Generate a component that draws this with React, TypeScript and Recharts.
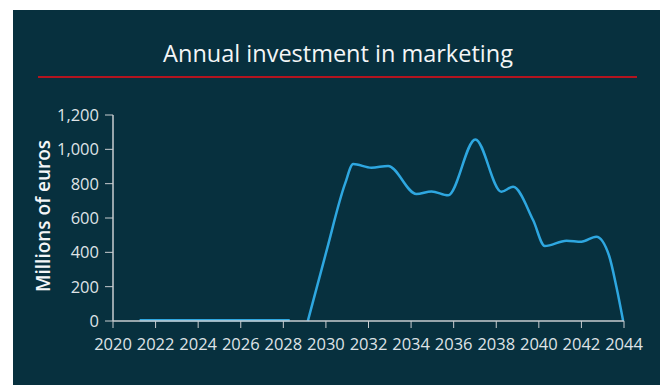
import React from "react";
import { LineChart, Line, XAxis, YAxis } from "recharts";

const years: (number)[] = [
  2021.25, 2028.3, 2028.7,
  2029.15, 2030.0, 2030.9, 2031.28, 2032.14, 2032.92, 2034.25, 2034.96, 2035.74,
  2037.02, 2038.24, 2038.79, 2039.73, 2040.28, 2041.3, 2042.0, 2042.7, 2043.3, 2043.65, 2043.96,
];
const values: (number | null)[] = [
  5, 5, null,
  0, 395, 800, 914, 893, 903, 740, 755, 732,
  1058, 753, 782, 588, 437, 468, 462, 491, 380, 195, 0,
];
const xTicks = [2020, 2022, 2024, 2026, 2028, 2030, 2032, 2034, 2036, 2038, 2040, 2042, 2044];
const yTicks = [0, 200, 400, 600, 800, 1000, 1200];

const data = years.map((y, i) => ({ year: y, value: values[i] }));

const BG = "#07303e";
const TXT = "#dfe3e6";
const AX = "#c9cdd0";
const FONT = "'Open Sans', Lato, sans-serif";

export default function App() {
  return (
    <div style={{ position: "relative", width: 655, height: 375, marginLeft: 5, marginTop: 2, background: BG, fontFamily: FONT }}>
      <div style={{ position: "absolute", left: 0, top: 27, width: 650, textAlign: "center", color: "#f4f6f7", fontSize: 23.5, fontFamily: FONT }}>
        Annual investment in marketing
      </div>
      <div style={{ position: "absolute", left: 25, top: 66, width: 599, height: 2, background: "#b3141f" }} />
      <div style={{ position: "absolute", left: 30, top: 206, width: 0, height: 0 }}>
        <div style={{ position: "absolute", transform: "translate(-50%, -50%) rotate(-90deg)", whiteSpace: "nowrap", color: "#f4f6f7", fontSize: 19, fontWeight: 600, fontFamily: FONT }}>
          Millions of euros
        </div>
      </div>
      <LineChart width={655} height={375} data={data} margin={{ top: 105, right: 44, bottom: 34, left: 40 }} style={{ position: "absolute", left: 0, top: 0 }}>
        <XAxis
          dataKey="year"
          type="number"
          domain={[2020, 2044]}
          ticks={xTicks}
          interval={0}
          height={30}
          tickSize={7}
          tickMargin={10}
          stroke={AX}
          tick={{ fill: TXT, fontSize: 16.5, fontFamily: FONT }}
          tickLine={{ stroke: AX }}
          axisLine={{ stroke: AX, strokeWidth: 1.5 }}
        />
        <YAxis
          type="number"
          domain={[0, 1200]}
          ticks={yTicks}
          interval={0}
          width={60}
          tickSize={8}
          tickMargin={6}
          tickFormatter={(v: number) => v.toLocaleString("en-US")}
          tick={{ fill: TXT, fontSize: 16.5, fontFamily: FONT }}
          tickLine={{ stroke: AX }}
          axisLine={{ stroke: AX, strokeWidth: 1.5 }}
        />
        <Line
          type="monotone"
          dataKey="value"
          stroke="#2ea7e0"
          strokeWidth={2.5}
          dot={false}
          connectNulls={false}
          isAnimationActive={false}
        />
      </LineChart>
    </div>
  );
}
